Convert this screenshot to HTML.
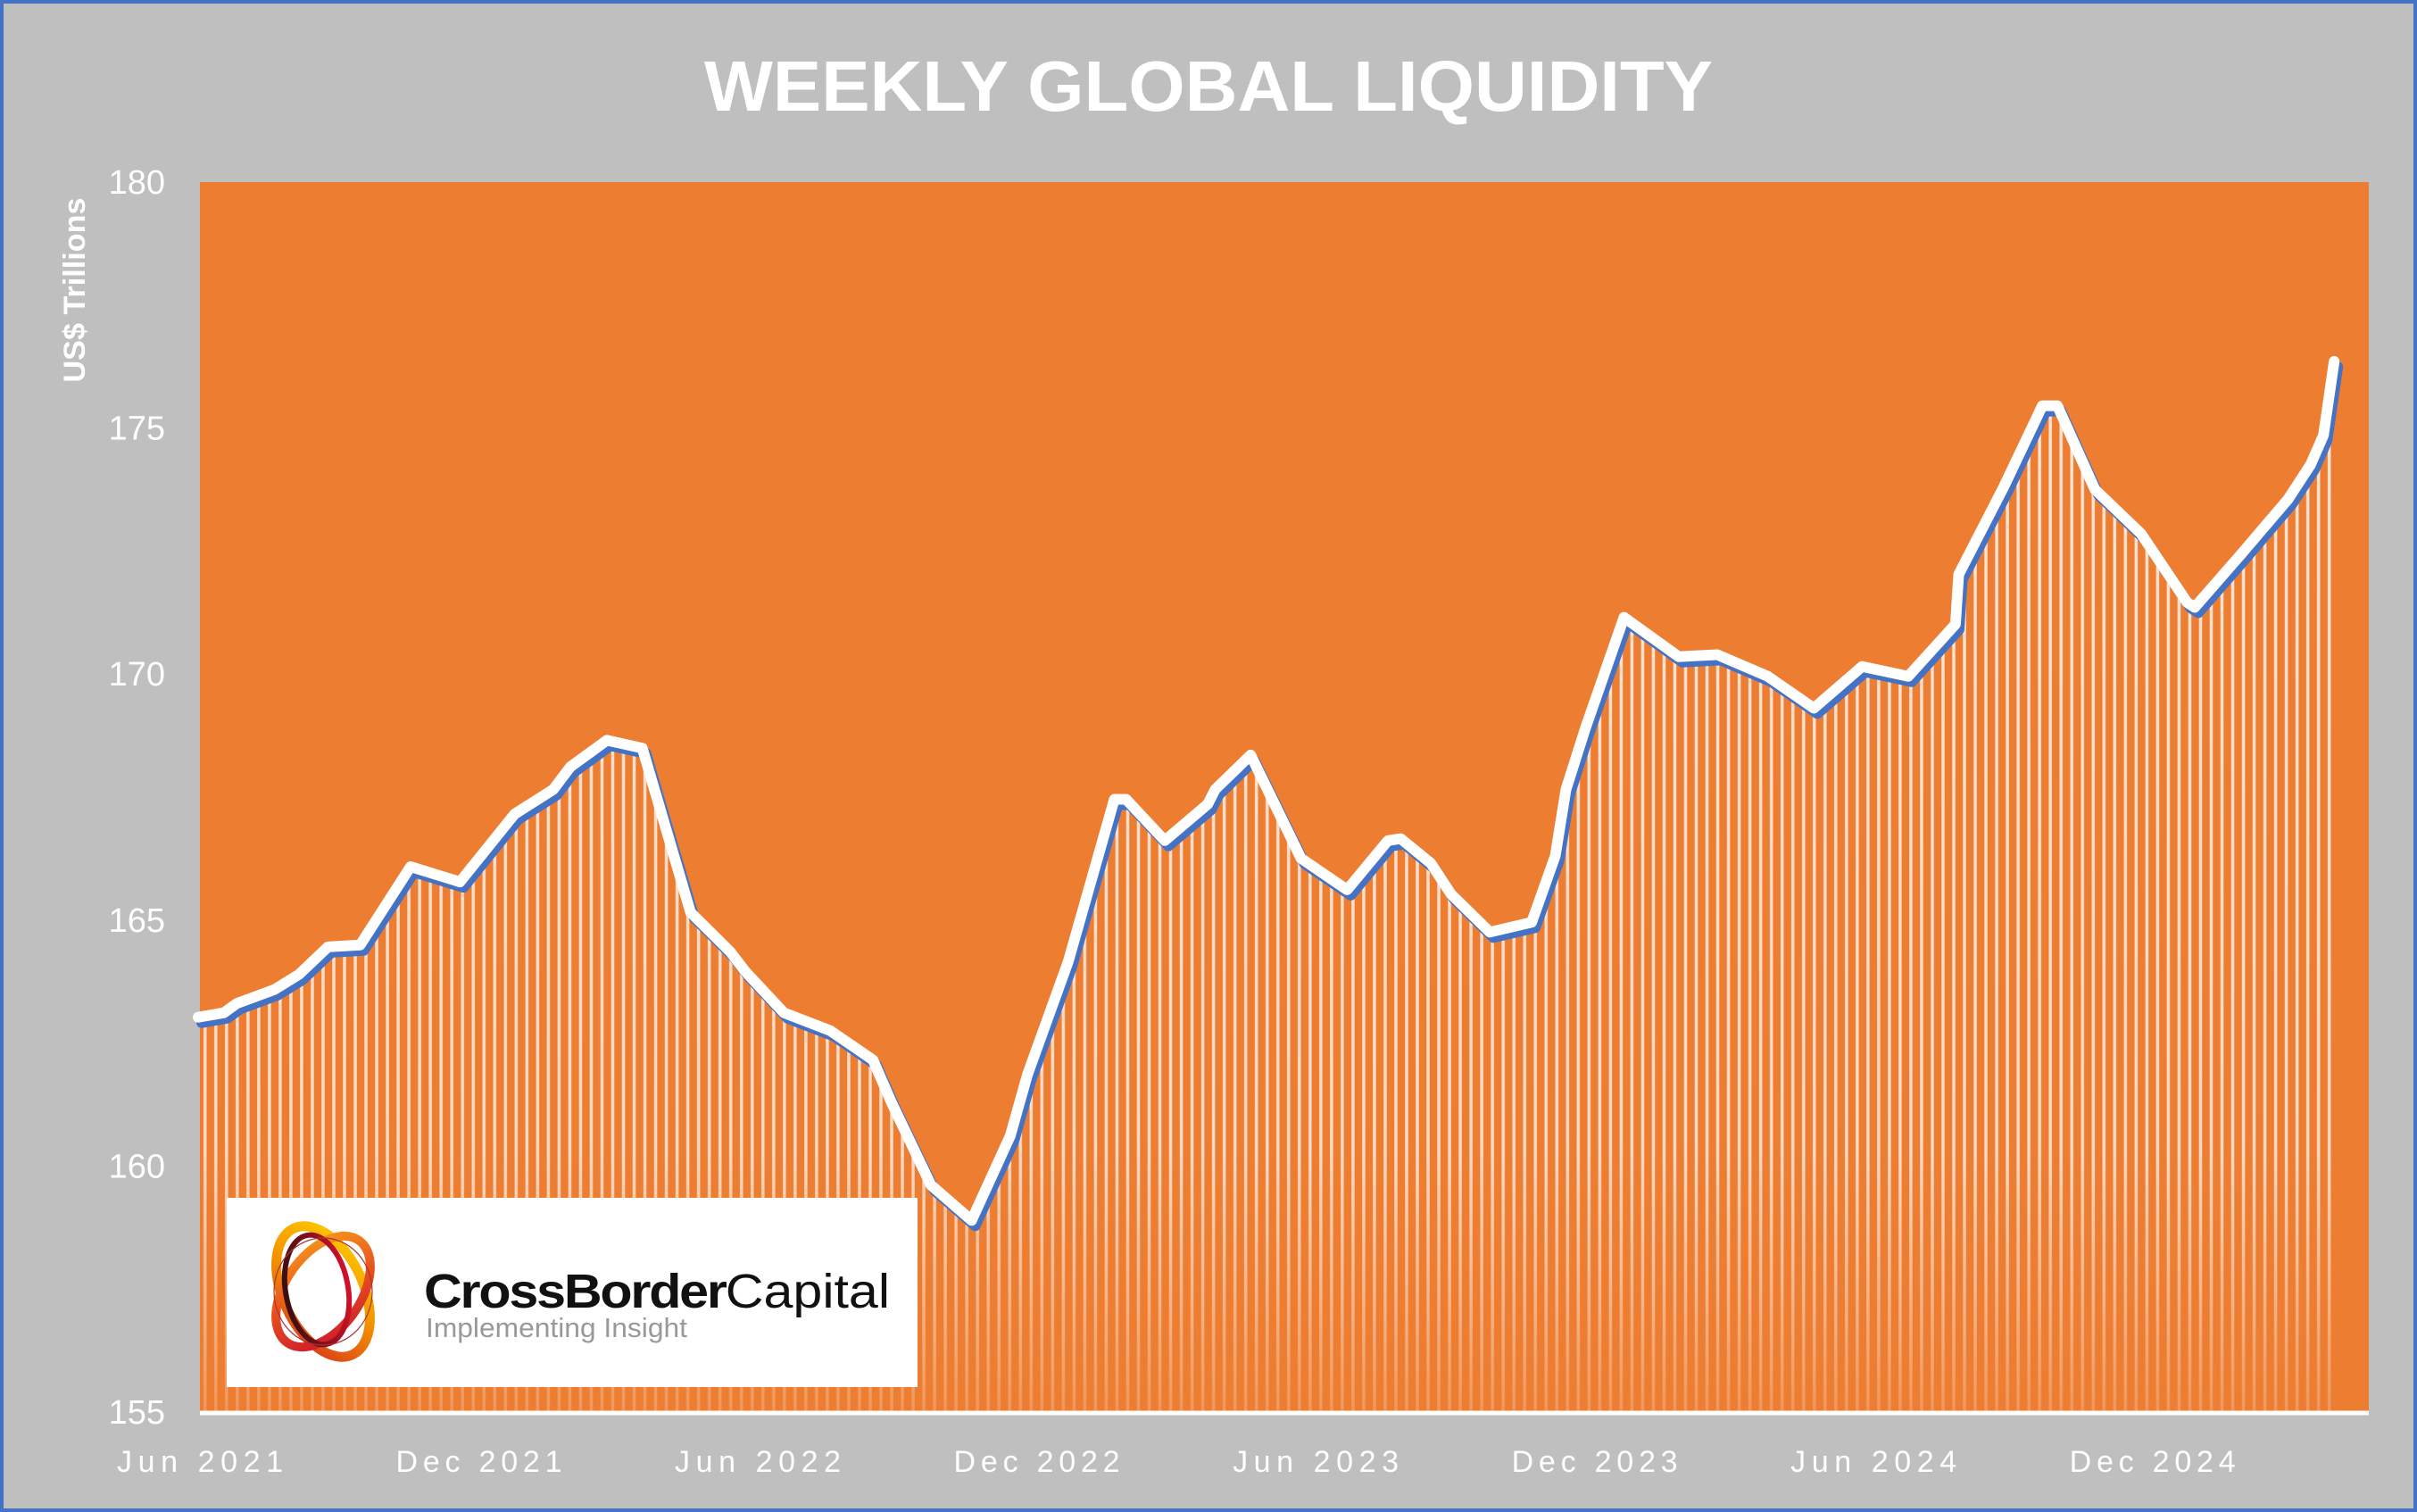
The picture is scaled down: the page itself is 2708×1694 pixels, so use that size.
<!DOCTYPE html>
<html><head><meta charset="utf-8"><style>
html,body{margin:0;padding:0;background:#bfbfbf}
svg{display:block}
text{font-family:"Liberation Sans",sans-serif}
</style></head><body>
<svg id="chart" width="2708" height="1694" viewBox="0 0 2708 1694" xmlns="http://www.w3.org/2000/svg">
<defs>
<pattern id="stripes" patternUnits="userSpaceOnUse" x="224" y="0" width="12.02" height="1694">
<rect x="4" y="0" width="3.5" height="1694" fill="#fff" opacity="0.8"/>
</pattern>
<linearGradient id="fadeG" x1="0" y1="0" x2="0" y2="1">
<stop offset="0" stop-color="#ed7d31" stop-opacity="0"/>
<stop offset="0.75" stop-color="#ed7d31" stop-opacity="0.1"/>
<stop offset="1" stop-color="#ed7d31" stop-opacity="0.75"/>
</linearGradient>
<linearGradient id="ringA" x1="0" y1="0" x2="1" y2="1">
<stop offset="0" stop-color="#f7a21b"/><stop offset="0.5" stop-color="#e8501e"/><stop offset="1" stop-color="#c8102e"/>
</linearGradient>
<linearGradient id="ringB" x1="1" y1="0" x2="0" y2="1">
<stop offset="0" stop-color="#ffd000"/><stop offset="0.5" stop-color="#f39200"/><stop offset="1" stop-color="#d7301f"/>
</linearGradient>
<linearGradient id="ringC" x1="0" y1="0" x2="1" y2="0">
<stop offset="0" stop-color="#3a1010"/><stop offset="1" stop-color="#d0102a"/>
</linearGradient>
</defs>
<rect x="2" y="2" width="2704" height="1690" fill="#bfbfbf" stroke="#4472c4" stroke-width="4"/>
<text x="1354" y="124" text-anchor="middle" font-size="80" font-weight="bold" fill="#fff" textLength="1130" lengthAdjust="spacingAndGlyphs">WEEKLY GLOBAL LIQUIDITY</text>
<rect x="224" y="204" width="2430" height="1378" fill="#ed7d31"/>
<g id="yaxis"></g>
<g id="xaxis"></g>
<text transform="translate(95,325) rotate(-90)" text-anchor="middle" font-size="34" font-weight="bold" fill="#fff" textLength="207" lengthAdjust="spacingAndGlyphs">US$ Trillions</text>
<g id="series"></g>
<line x1="224" y1="1583" x2="2654" y2="1583" stroke="#fff" stroke-width="5"/>
<g>
<rect x="254" y="1342" width="774" height="212" fill="#fff"/>
<ellipse cx="362" cy="1447" rx="45" ry="78" transform="rotate(-25 362 1447)" fill="none" stroke="url(#ringB)" stroke-width="11"/>
<ellipse cx="362" cy="1447" rx="42" ry="70" transform="rotate(35 362 1447)" fill="none" stroke="url(#ringA)" stroke-width="10"/>
<ellipse cx="355" cy="1445" rx="35" ry="62" transform="rotate(-10 355 1445)" fill="none" stroke="url(#ringC)" stroke-width="6"/>
<ellipse cx="362" cy="1447" rx="55" ry="60" fill="none" stroke="#a33" stroke-width="1.2"/>
<text x="475" y="1465" font-size="54" fill="#111" textLength="522" lengthAdjust="spacingAndGlyphs"><tspan font-weight="bold" letter-spacing="-2">CrossBorder</tspan><tspan>Capital</tspan></text>
<text x="477" y="1498" font-size="31" fill="#999" textLength="293" lengthAdjust="spacingAndGlyphs">Implementing Insight</text>
</g>
</svg>
<script>
// weeks since first week of Jun 2021, and liquidity values (US$ trillions)
const weeks = [0,2.4,3.6,7.1,9.4,12.1,15.1,19.8,24.4,29.5,33.1,34.7,38.1,41.4,45.9,49.6,51,54.6,58.9,62.9,64.6,68.3,72.1,75.7,77.3,81.1,85.4,86.5,90.1,94.1,94.8,98.1,102.8,107.1,110.9,112.1,114.9,116.8,120.4,124.3,126.5,127.5,129.3,132.9,138,141.6,146.3,150.6,155.1,159.4,163.8,164.1,168.3,171.9,173.3,176.8,181.1,185.4,186.1,190.5,194.8,196.9,198.1,199.1];
const values = [162.97,163.06,163.25,163.53,163.84,164.4,164.44,166.03,165.72,167.1,167.6,168.06,168.6,168.44,165.1,164.3,163.9,163.06,162.7,162.1,161.25,159.56,158.84,160.56,161.8,164.1,167.4,167.4,166.56,167.3,167.6,168.3,166.2,165.56,166.56,166.6,166.1,165.47,164.7,164.9,166.25,167.6,168.84,171.1,170.3,170.34,169.9,169.25,170.1,169.9,170.96,171.97,173.75,175.4,175.4,173.7,172.8,171.4,171.3,172.4,173.5,174.2,174.8,176.3];
const yTicks = [155,160,165,170,175,180];
const xTickWeeks = [0,26,52,78,104,130,156,182];
const xTickLabels = ["Jun 2021","Dec 2021","Jun 2022","Dec 2022","Jun 2023","Dec 2023","Jun 2024","Dec 2024"];

const NS = "http://www.w3.org/2000/svg";
const X0 = 224, PXW = 12.02, YTOP = 204, YBOT = 1582, VMIN = 155, VMAX = 180;
const xs = w => X0 + w * PXW;
const ys = v => YBOT - (v - VMIN) / (VMAX - VMIN) * (YBOT - YTOP);
function mk(tag, attrs, parent) {
  const el = document.createElementNS(NS, tag);
  for (const k in attrs) el.setAttribute(k, attrs[k]);
  parent.appendChild(el);
  return el;
}
const yg = document.getElementById('yaxis');
yTicks.forEach(v => {
  const t = mk('text', {x: 185, y: ys(v) + 13, 'text-anchor': 'end', 'font-size': 38, fill: '#fff'}, yg);
  
  
  t.textContent = v;
});
const xg = document.getElementById('xaxis');
xTickWeeks.forEach((w, i) => {
  const t = mk('text', {x: xs(w), y: 1649, 'text-anchor': 'middle', 'font-size': 34, fill: '#fff', textLength: 186, lengthAdjust: 'spacing'}, xg);
  
  
  t.textContent = xTickLabels[i];
});
const sg = document.getElementById('series');
let pts = weeks.map((w, i) => xs(w).toFixed(1) + ',' + ys(values[i]).toFixed(1));
const areaD = 'M' + xs(weeks[0]) + ',' + YBOT + ' L' + pts.join(' L') + ' L' + xs(weeks[weeks.length - 1]) + ',' + YBOT + ' Z';
const area = mk('path', {d: areaD, fill: 'url(#stripes)'}, sg);


const fade = mk('path', {d: areaD, fill: 'url(#fadeG)'}, sg);


const lineD = 'M' + pts.join(' L');
const blue = mk('path', {d: lineD, fill: 'none', stroke: '#4472c4', 'stroke-width': 12, 'stroke-linejoin': 'round', 'stroke-linecap': 'round', transform: 'translate(2,3)'}, sg);


const white = mk('path', {d: lineD, fill: 'none', stroke: '#fff', 'stroke-width': 12, 'stroke-linejoin': 'round', 'stroke-linecap': 'round', transform: 'translate(-2,-3)'}, sg);


</script>
</body></html>
